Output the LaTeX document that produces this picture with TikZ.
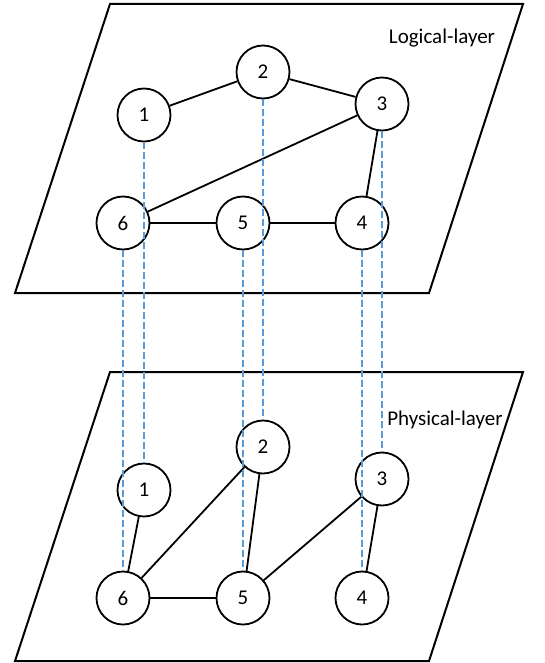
\documentclass[tikz,border=0pt]{standalone}
\usepackage{fontspec}
\setmainfont{Carlito}
\begin{document}
\begin{tikzpicture}[x=1pt,y=-1pt,
  vtx/.style={circle,draw=black,line width=1.8pt,fill=white,minimum size=53pt,inner sep=0pt,font=\fontsize{21}{25}\selectfont},
  edge/.style={line width=1.8pt,black},
  plane/.style={line width=2pt,black},
  vline/.style={line width=1.8pt,color={rgb,255:red,91;green,155;blue,213},dash pattern=on 6.5pt off 3.5pt},
  lbl/.style={font=\fontsize{21}{25}\selectfont,inner sep=0pt}]
\useasboundingbox (0,0) rectangle (544,663);
% planes
\draw[plane] (110,4) -- (523,4) -- (429,293) -- (15,293) -- cycle;
\draw[plane] (110,372) -- (523,372) -- (429,661) -- (15,661) -- cycle;
\node[lbl] (ltxt) at (442,38) {Logical-layer};
\node[lbl] (ptxt) at (445,420) {Physical-layer};
% logical layer
\node[vtx] (t1) at (144,115) {1};
\node[vtx] (t2) at (263,72) {2};
\node[vtx] (t3) at (382,104) {3};
\node[vtx] (t6) at (123,223) {6};
\node[vtx] (t5) at (243,223) {5};
\node[vtx] (t4) at (362,223) {4};
\draw[edge] (t1) -- (t2);
\draw[edge] (t2) -- (t3);
\draw[edge] (t3) -- (t6);
\draw[edge] (t6) -- (t5);
\draw[edge] (t5) -- (t4);
\draw[edge] (t3) -- (t4);
% physical layer
\node[vtx] (b1) at (144,490) {1};
\node[vtx] (b2) at (263,447) {2};
\node[vtx] (b3) at (382,479) {3};
\node[vtx] (b6) at (123,598) {6};
\node[vtx] (b5) at (243,598) {5};
\node[vtx] (b4) at (362,598) {4};
\draw[edge] (b1) -- (b6);
\draw[edge] (b6) -- (b2);
\draw[edge] (b2) -- (b5);
\draw[edge] (b6) -- (b5);
\draw[edge] (b5) -- (b3);
\draw[edge] (b3) -- (b4);
% vertical mapping
\foreach \i in {1,...,6}{
  \draw[vline] (t\i.south) -- (b\i.north);
}
\end{tikzpicture}
\end{document}
